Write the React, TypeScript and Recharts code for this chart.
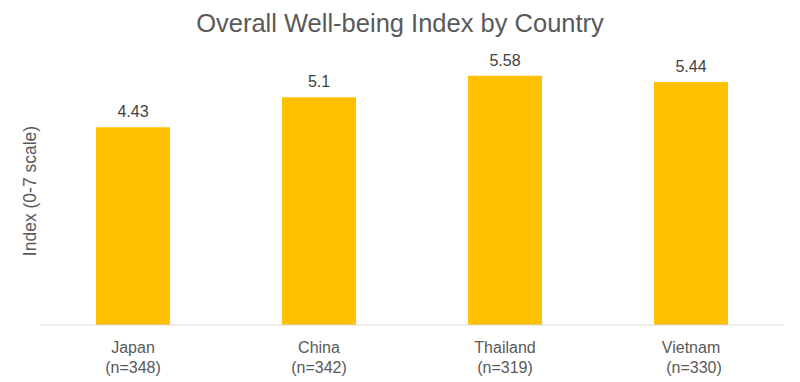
import { BarChart, Bar, XAxis, YAxis, LabelList } from 'recharts'

const countries = ['Japan', 'China', 'Thailand', 'Vietnam']
const sampleSizes = ['(n=348)', '(n=342)', '(n=319)', ' (n=330)']
const indexValues = [4.43, 5.1, 5.58, 5.44]

const data = countries.map((c, i) => ({ name: c, n: sampleSizes[i], value: indexValues[i] }))

const FONT = '"Liberation Sans", Arial, sans-serif'

// two-line category tick: country name + sample size
function CountryTick(props: any) {
  const { x, y, payload, index } = props
  return (
    <g transform={`translate(${x},${y})`}>
      <text textAnchor="middle" fill="#595959" fontSize={16} fontFamily={FONT}>
        <tspan x={0} dy={20}>{payload.value}</tspan>
        <tspan x={sampleSizes[index].startsWith(' ') ? 3 : 0} dy={20}>{sampleSizes[index].trim()}</tspan>
      </text>
    </g>
  )
}

export default function App() {
  return (
    <div style={{ position: 'fixed', left: 0, top: 0, width: 800, height: 382, background: '#fff', fontFamily: FONT }}>
      <div style={{ position: 'absolute', left: 0, top: 9, width: 800, textAlign: 'center', fontSize: 25.5, color: '#595959' }}>
        Overall Well-being Index by Country
      </div>
      <div style={{
        position: 'absolute', left: 30, top: 191, transform: 'translate(-50%, -50%) rotate(-90deg)',
        whiteSpace: 'nowrap', fontSize: 17.5, color: '#595959',
      }}>
        Index (0-7 scale)
      </div>
      <div style={{ position: 'absolute', left: 0, top: 0 }}>
        <BarChart width={800} height={382} data={data} margin={{ top: 57, right: 16, left: 40, bottom: 7 }} barCategoryGap="30%">
          <XAxis dataKey="name" height={50} tickLine={false} axisLine={{ stroke: '#d9d9d9' }} tick={<CountryTick />} interval={0} />
          <YAxis hide domain={[0, 6]} />
          <Bar dataKey="value" fill="#FFC000" barSize={74} isAnimationActive={false}>
            <LabelList dataKey="value" position="top" offset={10} fill="#404040" fontSize={16} fontFamily={FONT} />
          </Bar>
        </BarChart>
      </div>
    </div>
  )
}
